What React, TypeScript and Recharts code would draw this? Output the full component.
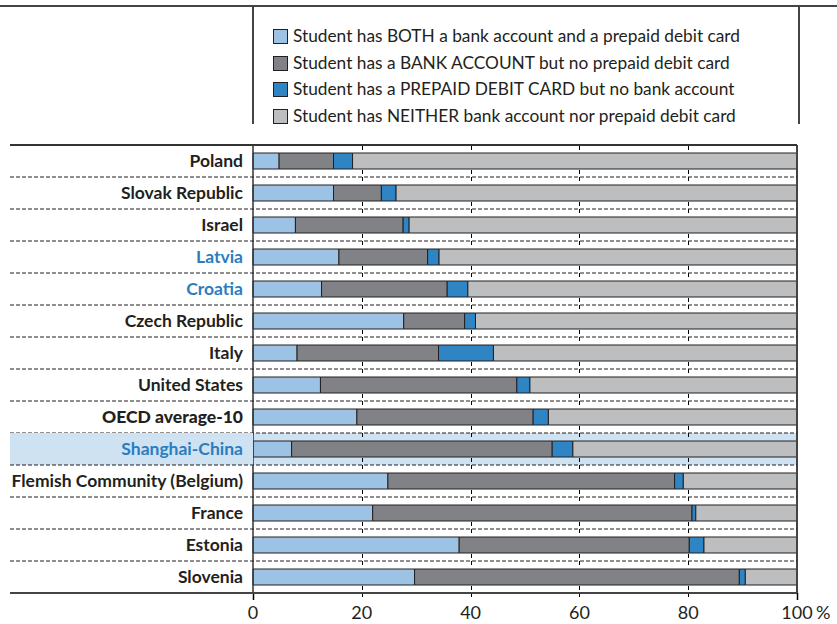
import React from "react";
import { BarChart, Bar, XAxis, YAxis, ReferenceLine, ReferenceArea } from "recharts";

const countries = [
  "Poland",
  "Slovak Republic",
  "Israel",
  "Latvia",
  "Croatia",
  "Czech Republic",
  "Italy",
  "United States",
  "OECD average-10",
  "Shanghai-China",
  "Flemish Community (Belgium)",
  "France",
  "Estonia",
  "Slovenia",
];

const both = [4.8, 14.8, 7.8, 15.8, 12.6, 27.7, 8.1, 12.4, 19.1, 7.1, 24.8, 22.0, 37.9, 29.7];
const bankOnly = [10.0, 8.8, 19.8, 16.3, 23.1, 11.2, 26.0, 36.1, 32.4, 47.9, 52.7, 58.7, 42.3, 59.7];
const cardOnly = [3.5, 2.7, 1.1, 2.1, 3.8, 2.0, 10.1, 2.4, 2.8, 3.8, 1.6, 0.7, 2.7, 1.1];

const xTicks = [0, 20, 40, 60, 80, 100];

const blueLabels = ["Latvia", "Croatia", "Shanghai-China"];
const highlighted = "Shanghai-China";
const average = "OECD average-10";

const SERIES = [
  { key: "both", color: "#9cc3e4", label: "Student has BOTH a bank account and a prepaid debit card" },
  { key: "bank", color: "#808285", label: "Student has a BANK ACCOUNT but no prepaid debit card" },
  { key: "card", color: "#2f84c4", label: "Student has a PREPAID DEBIT CARD but no bank account" },
  { key: "neither", color: "#bcbec0", label: "Student has NEITHER bank account nor prepaid debit card" },
];

const data = countries.map((name, i) => ({
  name,
  both: both[i],
  bank: bankOnly[i],
  card: cardOnly[i],
  neither: +(100 - both[i] - bankOnly[i] - cardOnly[i]).toFixed(1),
}));

const W = 837;
const H = 624;
const LEFT_EDGE = 10;
const PLOT_LEFT = 253;
const PLOT_RIGHT = 797;
const PLOT_TOP = 145;
const X_AXIS_H = 30;
const BOTTOM_PAD = 1;
const PLOT_H = H - PLOT_TOP - X_AXIS_H - BOTTOM_PAD;
const GAP = 0.25; // share of each row left empty above and below the bar
const HIGHLIGHT = "#cfe2f1";
const INK = "#231f20";
const FONT = "Lato, 'Open Sans', sans-serif";

function CountryTick(props: any) {
  const { x, y, payload, index } = props;
  const name = payload.value as string;
  const half = 16;
  const left = x - (PLOT_LEFT - 10 - LEFT_EDGE);
  const isLast = index === countries.length - 1;
  return (
    <g>
      {name === highlighted && (
        <rect x={left} y={y - half} width={PLOT_LEFT - left} height={half * 2} fill={HIGHLIGHT} />
      )}
      {index === 0 && (
        <line x1={left} x2={PLOT_RIGHT} y1={y - half} y2={y - half} stroke="#333" strokeWidth={2} />
      )}
      {isLast ? (
        <line x1={left} x2={PLOT_RIGHT} y1={y + half} y2={y + half} stroke="#444" strokeWidth={2} />
      ) : (
        <line
          x1={left}
          x2={PLOT_RIGHT}
          y1={y + half}
          y2={y + half}
          stroke={INK}
          strokeWidth={1}
          strokeDasharray="4 2"
        />
      )}
      <text
        x={x}
        y={y}
        dy={6}
        textAnchor="end"
        fontFamily={FONT}
        fontSize={17.5}
        fontWeight={name === average ? 900 : 700}
        fill={blueLabels.includes(name) ? "#2a7dbf" : INK}
      >
        {name}
      </text>
    </g>
  );
}

// x tick: label, short tick mark, and for inner ticks the dashed gridline
// drawn only in the gaps between bars
function PercentTick(props: any) {
  const { x, y, payload } = props;
  const v = Number(payload.value);
  const edge = v === 0 || v === 100;
  const gx = Math.round(x) + 0.5;
  const top = y - PLOT_H;
  const rowH = PLOT_H / countries.length;
  const gapLines = [];
  for (let i = 0; i <= countries.length; i++) {
    const b = top + i * rowH;
    const y1 = i === 0 ? b : b - rowH * GAP;
    const y2 = i === countries.length ? b : b + rowH * GAP;
    gapLines.push(<path key={i} d={`M${gx},${y1 + 1}L${gx},${y2 - 1}`} />);
  }
  return (
    <g>
      {!edge && (
        <g stroke="#000" strokeWidth={1} strokeDasharray="4 3" fill="none">
          {gapLines}
        </g>
      )}
      <path
        d={`M${gx},${y}L${gx},${y + 7}`}
        stroke="#000"
        strokeWidth={edge ? 1.5 : 1}
        strokeDasharray={edge ? undefined : "4 3"}
        fill="none"
      />
      <text x={x} y={y + 26} textAnchor="middle" fontFamily={FONT} fontSize={18} fill={INK}>
        {v}
      </text>
      {v === 100 && (
        <text x={x + 19} y={y + 26} textAnchor="start" fontFamily={FONT} fontSize={18} fill={INK}>
          %
        </text>
      )}
    </g>
  );
}

function LegendBox() {
  return (
    <div
      style={{
        position: "absolute",
        left: 273,
        top: 23,
        fontFamily: FONT,
        fontSize: 17.3,
        color: INK,
        lineHeight: "26.7px",
      }}
    >
      {SERIES.map((s) => (
        <div key={s.key} style={{ display: "flex", alignItems: "center", whiteSpace: "nowrap" }}>
          <span
            style={{
              display: "inline-block",
              width: 13,
              height: 13,
              background: s.color,
              border: `1px solid ${INK}`,
              marginRight: 5,
            }}
          />
          {s.label}
        </div>
      ))}
    </div>
  );
}

export default function App() {
  return (
    <div style={{ position: "absolute", left: 0, top: 0, width: W, height: H, background: "#fff" }}>
      <div style={{ position: "absolute", left: 0, top: 5, width: W, borderTop: "2px solid #444" }} />
      <div
        style={{
          position: "absolute",
          left: PLOT_LEFT - 1,
          top: 6,
          width: PLOT_RIGHT - PLOT_LEFT,
          height: 118,
          borderLeft: "2px solid #444",
          borderRight: "2px solid #444",
        }}
      />
      <LegendBox />
      <BarChart
        width={W}
        height={H}
        data={data}
        layout="vertical"
        margin={{ top: PLOT_TOP, right: W - PLOT_RIGHT, bottom: BOTTOM_PAD, left: LEFT_EDGE }}
        barCategoryGap={`${GAP * 100}%`}
        style={{ position: "absolute", left: 0, top: 0 }}
      >
        <ReferenceArea y1={highlighted} y2={highlighted} fill={HIGHLIGHT} fillOpacity={1} stroke="none" />
        <XAxis
          type="number"
          domain={[0, 100]}
          ticks={xTicks}
          axisLine={false}
          tickLine={false}
          tickSize={0}
          tickMargin={0}
          height={X_AXIS_H}
          tick={<PercentTick />}
          interval={0}
        />
        <YAxis
          type="category"
          dataKey="name"
          width={PLOT_LEFT - LEFT_EDGE}
          axisLine={{ stroke: "#333", strokeWidth: 1.5 }}
          tickLine={false}
          tickSize={0}
          tickMargin={10}
          tick={<CountryTick />}
          interval={0}
        />
        {SERIES.map((s) => (
          <Bar
            key={s.key}
            dataKey={s.key}
            stackId="a"
            fill={s.color}
            stroke={INK}
            strokeWidth={1}
            isAnimationActive={false}
          />
        ))}
        <ReferenceLine x={100} stroke="#444" strokeWidth={2} />
      </BarChart>
    </div>
  );
}
